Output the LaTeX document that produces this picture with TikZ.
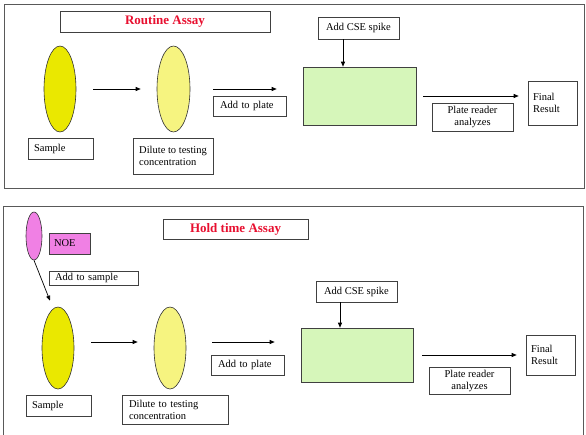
\documentclass[tikz,border=0pt]{standalone}
\usepackage{fontspec}
\setmainfont{Liberation Serif}
\usetikzlibrary{shapes.geometric,arrows.meta}

\definecolor{sampleyellow}{RGB}{234,232,0}
\definecolor{dilyellow}{RGB}{246,244,128}
\definecolor{plategreen}{RGB}{214,246,186}
\definecolor{noepink}{RGB}{240,128,228}
\definecolor{titlered}{RGB}{232,16,48}

\tikzset{
  frame/.style={draw=black!65,line width=.8pt},
  tube/.style={ellipse,draw=black!80,line width=.6pt,inner sep=0pt},
  box/.style={draw=black!75,line width=.6pt,fill=white,inner sep=0pt,font=\fontsize{10.5}{12}\selectfont},
  lbox/.style={box,inner xsep=6pt,align=left},
  cbox/.style={box,align=center},
  title/.style={box,font=\fontsize{13}{15}\selectfont\bfseries,text=titlered},
  arr/.style={-{Triangle[length=5pt,width=4pt]},line width=.7pt}
}

\begin{document}
\begin{tikzpicture}[x=1pt,y=-1pt]
\useasboundingbox[fill=white] (0,0) rectangle (586,434);
% routine assay
\draw[frame] (4,4) rectangle (584,188);
\node[title,minimum width=210pt,minimum height=21pt] (t1) at (165,21.5) {Routine Assay};
\node[tube,fill=sampleyellow,minimum width=32pt,minimum height=86pt] (s1) at (60,89) {};
\node[tube,fill=dilyellow,minimum width=33pt,minimum height=86pt] (d1) at (173.5,89) {};
\node[box,fill=plategreen,minimum width=113pt,minimum height=58pt] (p1) at (359.5,96) {};
\node[lbox,minimum width=65pt,minimum height=21pt,text width=53pt] (sl1) at (60.5,148.5) {Sample};
\node[lbox,minimum width=80pt,minimum height=36pt] (dl1) at (173,156) {Dilute to testing\\concentration};
\node[lbox,minimum width=73pt,minimum height=20pt,text width=59pt,inner xsep=7pt] (ap1) at (249.5,106) {Add to plate};
\node[cbox,minimum width=81pt,minimum height=22pt] (cse1) at (358.5,28) {Add CSE spike};
\node[cbox,minimum width=81pt,minimum height=28pt] (pr1) at (472.5,117) {Plate reader\\analyzes};
\node[lbox,minimum width=49pt,minimum height=44pt,text width=39pt,inner xsep=5pt] (fr1) at (552.5,103) {Final\\Result\\[8pt]};
\draw[arr,shorten <=17pt,shorten >=16pt] (s1) -- (d1);
\draw[arr,shorten <=23pt,shorten >=26pt] (d1.east) -- (d1.east -| p1.west);
\draw[arr] ([xshift=-15.5pt]cse1.south) -- ([xshift=-15.5pt]cse1.south |- p1.north);
\draw[arr,shorten <=7pt,shorten >=9pt] (p1.east) -- (p1.east -| fr1.west);
% hold time assay
\draw[frame] (3,436) -- (3,206.5) -- (583,206.5) -- (583,436);
\node[title,minimum width=145pt,minimum height=20pt] (t2) at (235.5,229) {Hold time Assay};
\node[tube,fill=noepink,minimum width=16pt,minimum height=48pt] (n2) at (34,236) {};
\node[lbox,fill=noepink,minimum width=41pt,minimum height=21pt,text width=31pt,inner xsep=5pt] (noe2) at (69.5,243.5) {NOE};
\node[lbox,minimum width=89pt,minimum height=14pt,text width=77pt,yshift=-2pt] (as2) at (93.5,276) {Add to sample};
\node[tube,fill=sampleyellow,minimum width=32pt,minimum height=82pt] (s2) at (58,348) {};
\node[tube,fill=dilyellow,minimum width=32pt,minimum height=82pt] (d2) at (170,348) {};
\node[box,fill=plategreen,minimum width=112pt,minimum height=54pt] (p2) at (357,355) {};
\node[lbox,minimum width=65pt,minimum height=21pt,text width=53pt] (sl2) at (58.5,405.5) {Sample};
\node[lbox,minimum width=106pt,minimum height=29pt,text width=92pt,inner xsep=7pt] (dl2) at (175,409.5) {Dilute to testing\\concentration};
\node[lbox,minimum width=73pt,minimum height=20pt,text width=59pt,inner xsep=7pt] (ap2) at (247.5,365) {Add to plate};
\node[cbox,minimum width=81pt,minimum height=21pt] (cse2) at (356.5,291.5) {Add CSE spike};
\node[cbox,minimum width=81pt,minimum height=27pt] (pr2) at (469.5,380.5) {Plate reader\\analyzes};
\node[lbox,minimum width=49pt,minimum height=40pt,text width=39pt,inner xsep=5pt] (fr2) at (550.5,355) {Final\\Result\\[6pt]};
\draw[arr] (n2.south) -- ([shift={(-8,-6)}]s2.north);
\draw[arr,shorten <=17pt,shorten >=16pt] ([yshift=6pt]s2.east) -- ([yshift=6pt]d2.west);
\draw[arr,shorten <=26pt,shorten >=26pt] ([yshift=6pt]d2.east) -- ([yshift=6pt]d2.east -| p2.west);
\draw[arr] ([xshift=-16.5pt]cse2.south) -- ([xshift=-16.5pt]cse2.south |- p2.north);
\draw[arr,shorten <=9pt,shorten >=9pt] (p2) -- (fr2);
\end{tikzpicture}
\end{document}
